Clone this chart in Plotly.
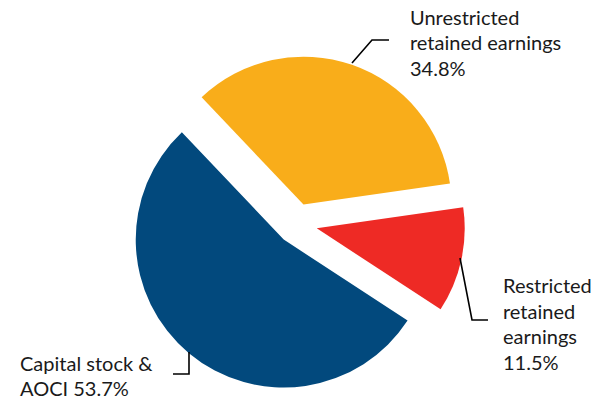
import plotly.graph_objects as go

# Composition of capital
labels = ["Unrestricted retained earnings", "Restricted retained earnings", "Capital stock & AOCI"]
values = [34.8, 11.5, 53.7]
colors = ["#F9AD1A", "#EE2A25", "#02497D"]
label_lines = [
    ["Unrestricted", "retained earnings", "{pct}"],
    ["Restricted", "retained", "earnings", "{pct}"],
    ["Capital stock &", "AOCI {pct}"],
]

W, H = 597, 400


def px(x):
    return x / W


def py(y):
    return 1 - y / H


fig = go.Figure(
    go.Pie(
        labels=labels,
        values=values,
        sort=False,
        direction="clockwise",
        rotation=-43.5,
        pull=0.138,
        textinfo="none",
        hoverinfo="label+percent",
        marker=dict(colors=colors, line=dict(width=0)),
        domain=dict(x=[px(128.4), px(465.2)], y=[py(392.3), py(55.5)]),
        showlegend=False,
    )
)

# label blocks: left edge and centre of first line (pixels), line step
label_pos = [(408, 17, 25.5), (501, 285, 25.7), (18, 363, 24.5)]
font = dict(family="Lato", size=20, color="#1a1a1a")
for lines, val, (x0, y0, step) in zip(label_lines, values, label_pos):
    for i, line in enumerate(lines):
        fig.add_annotation(
            x=px(x0), y=py(y0 + i * step), xref="paper", yref="paper",
            xanchor="left", yanchor="middle", showarrow=False,
            text=line.replace("{pct}", f"{val:.1f}%"), font=font,
        )

# elbow leader lines
leaders = [
    [(352, 63), (372, 40), (389, 40)],
    [(460, 258), (472, 320), (488, 320)],
    [(189, 352), (189, 374), (173, 374)],
]
for pts in leaders:
    path = "M " + " L ".join(f"{px(x):.5f},{py(y):.5f}" for x, y in pts)
    fig.add_shape(type="path", path=path, xref="paper", yref="paper",
                  line=dict(color="black", width=1.6))

fig.update_layout(
    width=W, height=H,
    margin=dict(l=0, r=0, t=0, b=0),
    paper_bgcolor="white", plot_bgcolor="white",
)

fig.write_html("out.html")
